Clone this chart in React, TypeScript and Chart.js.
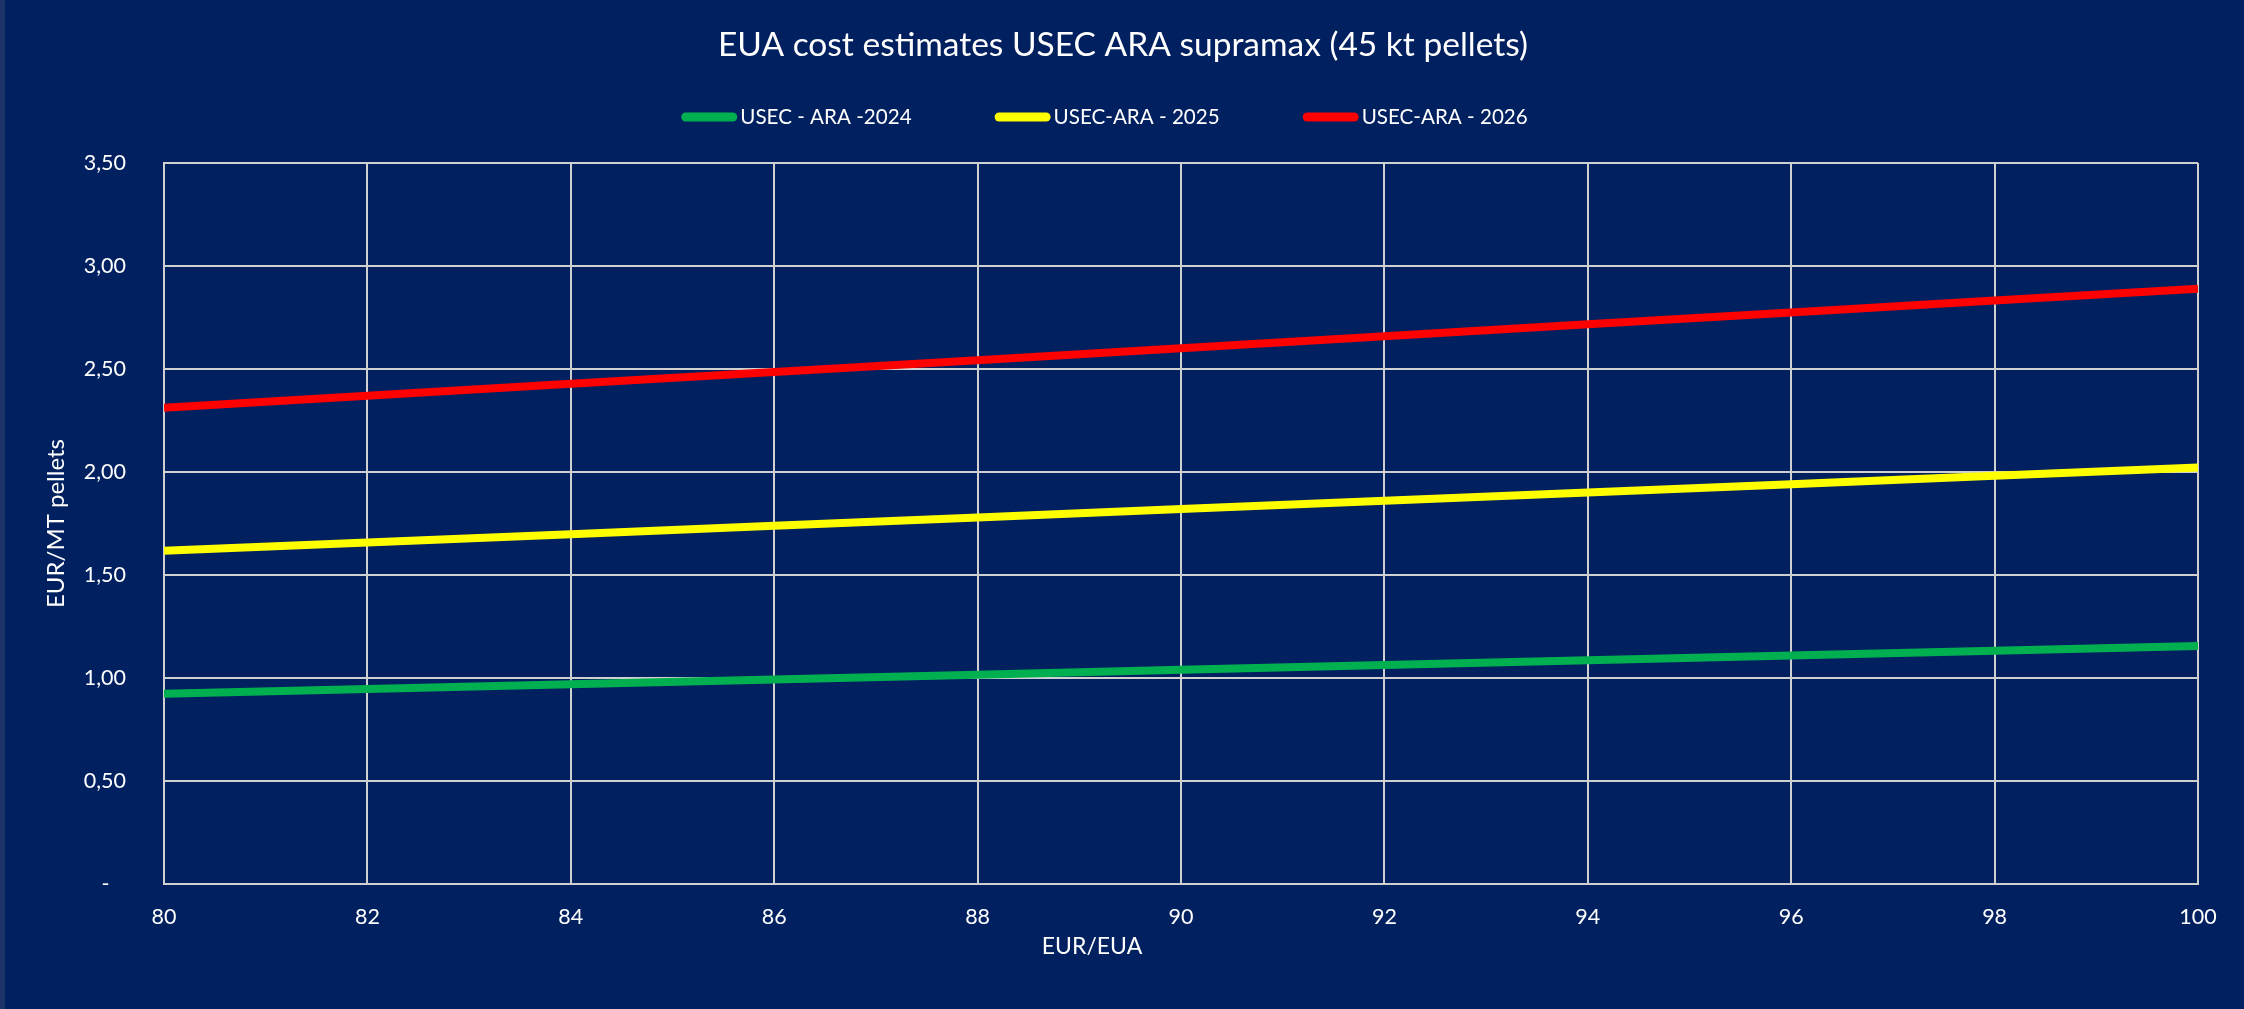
import { useEffect, useRef } from 'react';
import { Chart, registerables } from 'chart.js';

Chart.register(...registerables);

// ---- data ----
const EUA_PRICES = [80, 82, 84, 86, 88, 90, 92, 94, 96, 98, 100];
const COST_2024 = [0.924, 0.947, 0.97, 0.993, 1.016, 1.04, 1.063, 1.086, 1.109, 1.132, 1.155];
const COST_2025 = [1.618, 1.658, 1.698, 1.739, 1.779, 1.82, 1.86, 1.901, 1.941, 1.982, 2.022];
const COST_2026 = [2.312, 2.37, 2.428, 2.485, 2.543, 2.601, 2.659, 2.717, 2.774, 2.832, 2.89];
const SERIES_LABELS = ['USEC - ARA -2024', 'USEC-ARA - 2025', 'USEC-ARA - 2026'];
const SERIES_COLORS = ['#00B050', '#FFFF00', '#FF0000'];
const X_RANGE = [80, 100];
const X_STEP = 2;
const Y_RANGE = [0, 3.5];
const Y_STEP = 0.5;

const TITLE = 'EUA cost estimates USEC ARA supramax (45 kt pellets)';
const X_TITLE = 'EUR/EUA';
const Y_TITLE = 'EUR/MT pellets';

// ---- styling / layout ----
const W = 2244;
const H = 1009;
const BG = '#002060';
const EDGE = '#1E3368';
const GRID = '#D0D0D0';
const TEXT = '#FFFFFF';
const FONT = 'Lato, "Liberation Sans", sans-serif';
const TITLE_SIZE = 33.5;

const LEGEND_CX = 1104.5;
const LEGEND_Y = 117;
const LEGEND_FONT = 20.6;
const LEGEND_SWATCH = 56;
const LEGEND_TEXT_GAP = 3;
const LEGEND_ITEM_GAP = 83;
const X_TITLE_CX = 1092;
const X_TITLE_Y = 947;

const decorPlugin = {
  id: 'decor',
  beforeDraw(chart: any) {
    const ctx = chart.ctx;
    ctx.save();
    ctx.fillStyle = BG;
    ctx.fillRect(0, 0, chart.width, chart.height);
    ctx.fillStyle = EDGE;
    ctx.fillRect(0, 0, 5, chart.height);
    ctx.restore();
  },
  afterDraw(chart: any) {
    const ctx = chart.ctx;
    ctx.save();
    // legend
    ctx.font = `${LEGEND_FONT}px ${FONT}`;
    const items = chart.data.datasets.map((ds: any) => ({
      label: ds.label as string,
      color: ds.borderColor as string,
      w: ctx.measureText(ds.label).width,
    }));
    const total =
      items.reduce((s: number, it: any) => s + LEGEND_SWATCH + LEGEND_TEXT_GAP + it.w, 0) +
      LEGEND_ITEM_GAP * (items.length - 1);
    let x = LEGEND_CX - total / 2;
    items.forEach((it: any) => {
      ctx.strokeStyle = it.color;
      ctx.lineWidth = 9;
      ctx.lineCap = 'round';
      ctx.beginPath();
      ctx.moveTo(x + 4.5, LEGEND_Y);
      ctx.lineTo(x + LEGEND_SWATCH - 4.5, LEGEND_Y);
      ctx.stroke();
      ctx.fillStyle = TEXT;
      ctx.textAlign = 'left';
      ctx.textBaseline = 'middle';
      ctx.fillText(it.label, x + LEGEND_SWATCH + LEGEND_TEXT_GAP, LEGEND_Y);
      x += LEGEND_SWATCH + LEGEND_TEXT_GAP + it.w + LEGEND_ITEM_GAP;
    });
    // x axis title
    ctx.font = `23px ${FONT}`;
    ctx.textAlign = 'center';
    ctx.textBaseline = 'middle';
    ctx.fillStyle = TEXT;
    ctx.fillText(X_TITLE, X_TITLE_CX, X_TITLE_Y);
    ctx.restore();
  },
};

export default function App() {
  const ref = useRef<HTMLCanvasElement | null>(null);

  useEffect(() => {
    document.body.style.margin = '0';
    document.body.style.background = BG;
    const canvas = ref.current;
    if (!canvas) return;

    const seriesValues = [COST_2024, COST_2025, COST_2026];
    const datasets = seriesValues.map((vals, i) => ({
      label: SERIES_LABELS[i],
      data: EUA_PRICES.map((x, j) => ({ x, y: vals[j] })),
      borderColor: SERIES_COLORS[i],
      backgroundColor: SERIES_COLORS[i],
      borderWidth: 8,
      borderCapStyle: 'butt' as const,
      pointRadius: 0,
      pointHoverRadius: 0,
      tension: 0,
      fill: false,
    }));

    const chart = new Chart(canvas, {
      type: 'line',
      data: { datasets },
      plugins: [decorPlugin],
      options: {
        responsive: false,
        animation: false,
        devicePixelRatio: 1,
        events: [],
        layout: { padding: { left: 48, right: 46, top: 0, bottom: 0 } },
        plugins: {
          legend: { display: false },
          tooltip: { enabled: false },
          title: {
            display: true,
            text: TITLE,
            color: TEXT,
            font: { family: FONT, size: TITLE_SIZE, weight: 'normal' as any },
            padding: { top: 25, bottom: 163 - 25 - TITLE_SIZE * 1.2 },
          },
        },
        scales: {
          x: {
            type: 'linear',
            min: X_RANGE[0],
            max: X_RANGE[1],
            ticks: {
              stepSize: X_STEP,
              color: TEXT,
              font: { family: FONT, size: 21.5 },
              padding: 20,
              maxRotation: 0,
              callback: (v: any) => String(v),
            },
            grid: { color: GRID, lineWidth: 2, drawTicks: false },
            border: { color: GRID, width: 2 },
            afterFit: (s: any) => {
              s.height = H - 884;
            },
          },
          y: {
            type: 'linear',
            min: Y_RANGE[0],
            max: Y_RANGE[1],
            ticks: {
              stepSize: Y_STEP,
              color: TEXT,
              font: { family: FONT, size: 21.5 },
              padding: 38,
              callback: (v: any) => (Number(v) === 0 ? '-   ' : Number(v).toFixed(2).replace('.', ',')),
            },
            grid: { color: GRID, lineWidth: 2, drawTicks: false },
            border: { color: GRID, width: 2 },
            title: {
              display: true,
              text: Y_TITLE,
              color: TEXT,
              font: { family: FONT, size: 24 },
              padding: { top: -6, bottom: 0 },
            },
            afterFit: (s: any) => {
              s.width = 164 - 48;
            },
          },
        },
      },
    });

    return () => chart.destroy();
  }, []);

  return <canvas ref={ref} width={W} height={H} style={{ display: 'block' }} />;
}
